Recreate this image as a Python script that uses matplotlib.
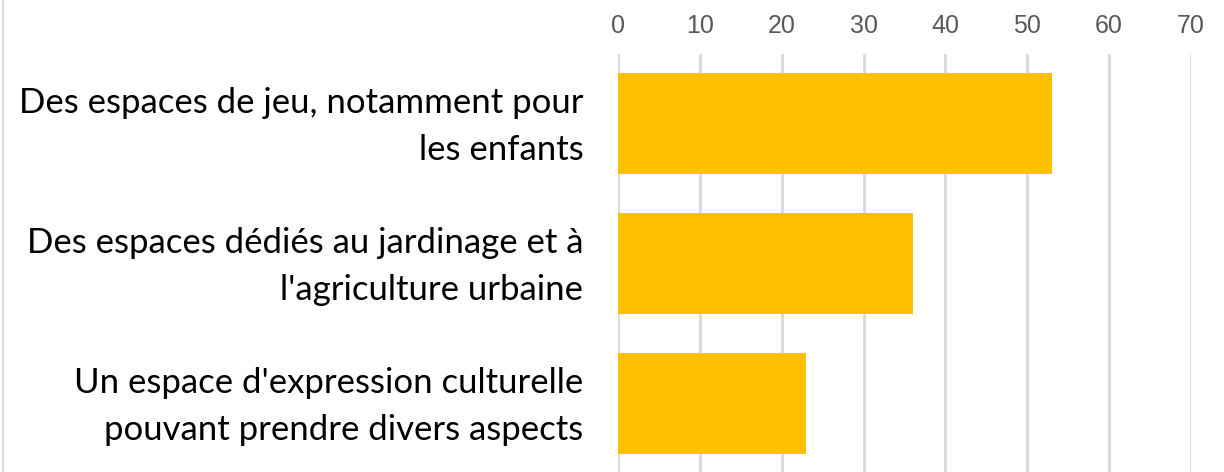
import matplotlib.pyplot as plt
import matplotlib.transforms as mtransforms
from matplotlib.lines import Line2D

# data
categories = ["Des espaces de jeu, notamment pour\nles enfants",
              "Des espaces dédiés au jardinage et à\nl'agriculture urbaine",
              "Un espace d'expression culturelle\npouvant prendre divers aspects"]
values = [53, 36, 23]
xticks = [0, 10, 20, 30, 40, 50, 60, 70]

W, H, DPI = 1224, 472, 100
fig = plt.figure(figsize=(W / DPI, H / DPI), dpi=DPI, facecolor='w')

# axes in pixel coordinates
left, right, top, bottom = 618, 1191, 53.5, 472
ax = fig.add_axes([left / W, 1 - bottom / H, (right - left) / W, (bottom - top) / H])

pos = list(range(len(categories)))
ax.barh(pos, values, height=0.72, color='#FFC000', zorder=3)

ax.set_xlim(0, 70)
ax.set_ylim(2.489, -0.5)
ax.set_xticks(xticks)
ax.xaxis.tick_top()
ax.tick_params(axis='x', length=0, pad=11.5, labelsize=18, labelcolor='#595959')
for lab in ax.get_xticklabels():
    lab.set_fontfamily(['Liberation Sans Narrow', 'Liberation Sans'])
ax.set_yticks(pos)
ax.set_yticklabels(categories, fontsize=25, family='Lato', color='black',
                   ha='right', linespacing=1.6)
ax.tick_params(axis='y', length=0, pad=25)
# nudge the category labels up a little
shift = mtransforms.ScaledTranslation(0, 8 / DPI, fig.dpi_scale_trans)
for lab in ax.get_yticklabels():
    lab.set_transform(lab.get_transform() + shift)
ax.grid(axis='x', color='#D9D9D9', lw=2, zorder=0)
for spine in ('top', 'right', 'bottom', 'left'):
    ax.spines[spine].set_visible(False)

# chart border on the left edge
fig.add_artist(Line2D([2.5 / W, 2.5 / W], [0, 1], color='#D9D9D9', lw=1.5))

fig.savefig('out.png', dpi=DPI, facecolor='w')
